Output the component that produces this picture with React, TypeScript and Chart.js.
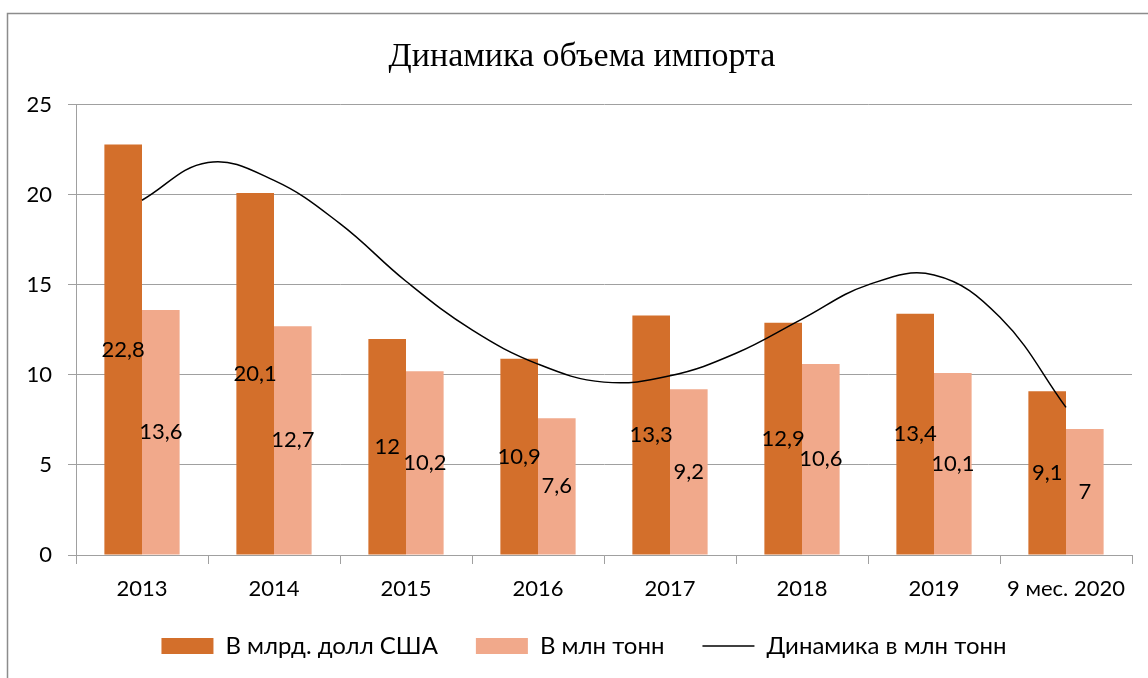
import React, { useEffect, useRef } from "react";
import { Chart, registerables } from "chart.js";

Chart.register(...registerables);

const categories = ["2013", "2014", "2015", "2016", "2017", "2018", "2019", "9 мес. 2020"];
const usdValues = [22.8, 20.1, 12, 10.9, 13.3, 12.9, 13.4, 9.1];
const tonValues = [13.6, 12.7, 10.2, 7.6, 9.2, 10.6, 10.1, 7];
// trend curve at half-category steps (0 = 2013 ... 7 = 9 мес. 2020)
const trendPositions = [0, 0.5, 1, 1.5, 2, 2.5, 3, 3.5, 4, 4.5, 5, 5.5, 6, 6.5, 7];
const trendValues = [19.7, 21.8, 20.8, 18.4, 15.2, 12.5, 10.6, 9.6, 9.95, 11.2, 13.1, 15.0, 15.55, 13.2, 8.2];
const yTicks = [0, 5, 10, 15, 20, 25];

const seriesNames = ["В млрд. долл США", "В млн тонн", "Динамика в млн тонн"];
const titleText = "Динамика объема импорта";

const DARK = "#D36F2B";
const LIGHT = "#F1A98B";
const GRID = "#A0A0A0";
const FONT = "Lato";

const borderPlugin = {
  id: "outerBorder",
  beforeDraw(chart: any) {
    const ctx = chart.ctx;
    ctx.save();
    ctx.strokeStyle = "#8C8C8C";
    ctx.lineWidth = 1.5;
    ctx.beginPath();
    ctx.moveTo(7.5, chart.height + 5);
    ctx.lineTo(7.5, 13.5);
    ctx.lineTo(chart.width + 5, 13.5);
    ctx.stroke();
    ctx.restore();
  },
};

// centre title and legend a little to the right, as in the reference
const shiftPlugin = {
  id: "shiftBoxes",
  afterLayout(chart: any) {
    if (chart.titleBlock) chart.titleBlock.left = 32;
    if (chart.legend) chart.legend.left = 36;
  },
};

const labelPlugin = {
  id: "barLabels",
  afterDatasetsDraw(chart: any) {
    const ctx = chart.ctx;
    ctx.save();
    ctx.font = `22px ${FONT}`;
    ctx.fillStyle = "#000";
    ctx.textAlign = "center";
    ctx.textBaseline = "middle";
    [0, 1].forEach((di) => {
      const meta = chart.getDatasetMeta(di);
      const data = chart.data.datasets[di].data as any[];
      meta.data.forEach((el: any, i: number) => {
        const txt = String(data[i].y).replace(".", ",");
        ctx.fillText(txt, el.x, (el.y + el.base) / 2);
      });
    });
    ctx.restore();
  },
};

export default function App() {
  const ref = useRef<HTMLCanvasElement>(null);
  useEffect(() => {
    if (!ref.current) return;
    const chart = new Chart(ref.current, {
      type: "bar",
      data: {
        datasets: [
          {
            type: "bar",
            label: seriesNames[0],
            data: usdValues.map((v, i) => ({ x: i, y: v })),
            backgroundColor: DARK,
            borderWidth: 0,
            categoryPercentage: 0.57,
            barPercentage: 1,
          },
          {
            type: "bar",
            label: seriesNames[1],
            data: tonValues.map((v, i) => ({ x: i, y: v })),
            backgroundColor: LIGHT,
            borderWidth: 0,
            categoryPercentage: 0.57,
            barPercentage: 1,
          },
          {
            type: "line",
            label: seriesNames[2],
            data: trendPositions.map((p, i) => ({ x: p, y: trendValues[i] })),
            borderColor: "#000",
            backgroundColor: "#000",
            borderWidth: 1.5,
            pointRadius: 0,
            tension: 0.4,
            fill: false,
            order: -1,
          } as any,
        ],
      },
      options: {
        animation: false,
        responsive: false,
        maintainAspectRatio: false,
        layout: { padding: { top: 13, left: 8, right: 16, bottom: 10 } },
        scales: {
          x: {
            type: "linear",
            min: -0.5,
            max: 7.5,
            offset: false,
            afterBuildTicks: (s: any) => { s.ticks = categories.map((_, i) => ({ value: i })); },
            grid: { offset: true, drawOnChartArea: false, tickLength: 9, color: GRID },
            border: { color: GRID },
            ticks: {
              font: { family: FONT, size: 22 },
              color: "#000",
              padding: 12,
              maxRotation: 0,
              autoSkip: false,
              callback: (_v: any, i: number) => categories[i],
            },
            afterFit: (s: any) => { s.height = 41; },
          },
          y: {
            min: 0,
            max: 25,
            afterBuildTicks: (s: any) => { s.ticks = yTicks.map((v) => ({ value: v })); },
            grid: { tickLength: 8, color: GRID },
            border: { color: GRID },
            ticks: { font: { family: FONT, size: 22 }, color: "#000", padding: 16 },
            afterFit: (s: any) => { s.width = 68; },
          },
        },
        plugins: {
          title: {
            display: true,
            text: titleText,
            font: { family: "Liberation Serif", size: 34, weight: "normal" },
            color: "#000",
            padding: { top: 24, bottom: 27 },
          },
          legend: {
            position: "bottom",
            labels: {
              usePointStyle: true,
              pointStyleWidth: 52,
              boxHeight: 16,
              font: { family: FONT, size: 24 },
              color: "#000",
              padding: 38,
              sort: (a: any, b: any) => a.datasetIndex - b.datasetIndex,
              generateLabels: (c: any) => {
                const items = Chart.defaults.plugins.legend.labels.generateLabels(c);
                return items.map((it: any) => {
                  if (it.datasetIndex === 2) {
                    return { ...it, pointStyle: "line", lineWidth: 1.5, strokeStyle: "#000" };
                  }
                  return { ...it, pointStyle: "rect", lineWidth: 0 };
                });
              },
            },
          },
          tooltip: { enabled: false },
        },
      },
      plugins: [borderPlugin, shiftPlugin, labelPlugin],
    });
    return () => chart.destroy();
  }, []);
  return (
    <div style={{ position: "fixed", left: 0, top: 0, width: 1148, height: 678, background: "#fff" }}>
      <canvas ref={ref} width={1148} height={678} style={{ display: "block" }} />
    </div>
  );
}
